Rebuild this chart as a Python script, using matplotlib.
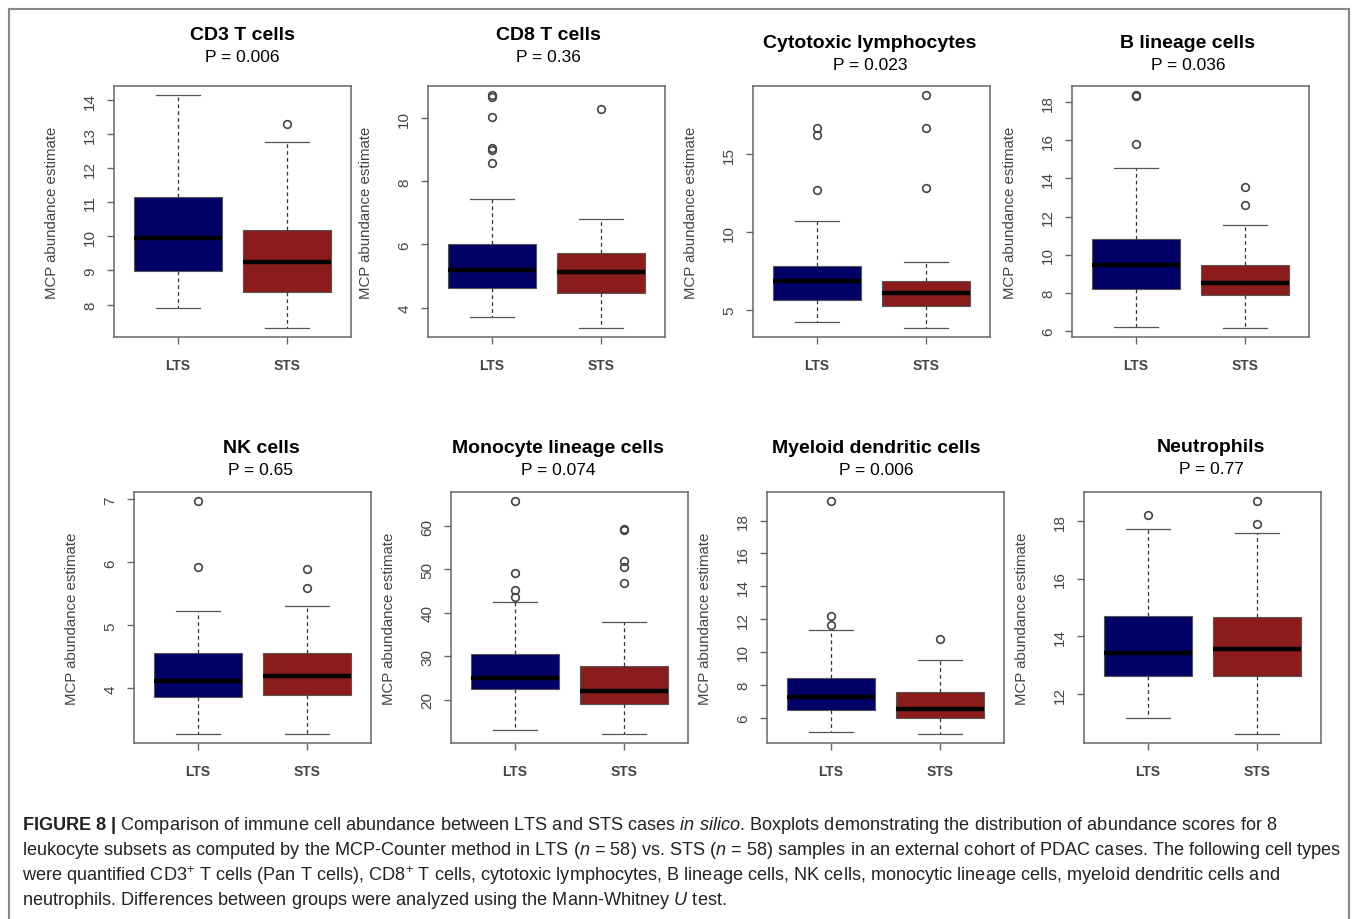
import matplotlib
matplotlib.use('Agg')
import matplotlib.pyplot as plt
from matplotlib.ticker import MultipleLocator

# Данные
panel_titles = ["CD3 T cells", "CD8 T cells", "Cytotoxic lymphocytes", "B lineage cells",
                "NK cells", "Monocyte lineage cells", "Myeloid dendritic cells", "Neutrophils"]
p_values = ["0.006", "0.36", "0.023", "0.036", "0.65", "0.074", "0.006", "0.77"]
groups = ["LTS", "STS"]
tick_step = [1, 2, 5, 2, 1, 10, 2, 2]

lts_whislo = [7.90, 3.71, 4.24, 6.23, 3.28, 12.9, 5.15, 11.15]
lts_q1 = [8.97, 4.62, 5.65, 8.21, 3.86, 22.5, 6.47, 12.64]
lts_med = [9.96, 5.18, 6.90, 9.44, 4.11, 25.1, 7.26, 13.41]
lts_q3 = [11.17, 6.01, 7.82, 10.84, 4.56, 30.5, 8.43, 14.70]
lts_whishi = [14.14, 7.45, 10.73, 14.54, 5.23, 42.5, 11.32, 17.73]
lts_fliers = [[], [10.73, 10.69, 10.04, 9.07, 8.99, 8.59], [16.71, 16.24, 12.72],
              [18.36, 18.32, 15.81], [6.97, 5.93], [65.7, 49.2, 45.2, 43.7],
              [19.18, 12.22, 11.67], [18.23]]

sts_whislo = [7.32, 3.36, 3.87, 6.18, 3.28, 12.15, 5.02, 10.62]
sts_q1 = [8.36, 4.46, 5.26, 7.91, 3.89, 18.9, 5.96, 12.63]
sts_med = [9.25, 5.14, 6.13, 8.51, 4.19, 21.9, 6.51, 13.57]
sts_q3 = [10.20, 5.73, 6.84, 9.46, 4.56, 27.8, 7.55, 14.67]
sts_whishi = [12.77, 6.80, 8.12, 11.58, 5.31, 37.8, 9.51, 17.60]
sts_fliers = [[13.29], [10.31], [18.8, 16.73, 12.87], [13.57, 12.61], [5.89, 5.59],
              [59.3, 59.1, 52.0, 50.5, 46.8], [10.81], [18.7, 17.9]]

box_colors = ["#000066", "#8B1C1C"]

# Раскладка (в пикселях 1358x920)
W, H = 1358, 920
ax_left = [114, 428, 753, 1072, 134, 451, 767, 1084]
ax_top = [87, 87, 87, 87, 493, 493, 493, 493]
ax_w, ax_h = 237, 251
title_x = [242, 548, 870, 1188, 261, 558, 876, 1211]
title_y = [35, 35, 43, 43, 449, 449, 449, 448]

plt.rcParams['font.family'] = 'Liberation Sans'
plt.rcParams['mathtext.fontset'] = 'custom'
plt.rcParams['mathtext.rm'] = 'Liberation Sans'
plt.rcParams['mathtext.it'] = 'Liberation Sans:italic'
plt.rcParams['mathtext.bf'] = 'Liberation Sans:bold'

gray = "#555555"
fig = plt.figure(figsize=(W / 100, H / 100), dpi=100)

for i in range(8):
    ax = fig.add_axes([ax_left[i] / W, 1 - (ax_top[i] + ax_h) / H, ax_w / W, ax_h / H])
    stats = []
    for k, (lo, q1, med, q3, hi, fl) in enumerate([
            (lts_whislo[i], lts_q1[i], lts_med[i], lts_q3[i], lts_whishi[i], lts_fliers[i]),
            (sts_whislo[i], sts_q1[i], sts_med[i], sts_q3[i], sts_whishi[i], sts_fliers[i])]):
        stats.append(dict(whislo=lo, q1=q1, med=med, q3=q3, whishi=hi, fliers=fl, label=groups[k]))

    bp = ax.bxp(stats, positions=[1, 2], widths=0.8, capwidths=0.4, patch_artist=True,
                boxprops=dict(edgecolor=gray, linewidth=0.8),
                medianprops=dict(color='black', linewidth=3.2, solid_capstyle='butt'),
                whiskerprops=dict(color="#333333", linewidth=0.9, linestyle=(0, (3, 2.5))),
                capprops=dict(color="#555555", linewidth=0.9),
                flierprops=dict(marker='o', markersize=5.5, markerfacecolor='none',
                                markeredgecolor="#444444", markeredgewidth=1.2))
    for patch, c in zip(bp['boxes'], box_colors):
        patch.set_facecolor(c)

    # пределы осей как в R (+4%)
    all_vals = [lts_whislo[i], lts_whishi[i], sts_whislo[i], sts_whishi[i]] + lts_fliers[i] + sts_fliers[i]
    lo, hi = min(all_vals), max(all_vals)
    pad = (hi - lo) * 0.04
    ax.set_ylim(lo - pad, hi + pad)
    ax.set_xlim(0.42, 2.58)
    ax.yaxis.set_major_locator(MultipleLocator(tick_step[i]))
    ax.yaxis.set_major_formatter(matplotlib.ticker.FormatStrFormatter('%d'))

    for s in ax.spines.values():
        s.set_color("#666666")
        s.set_linewidth(1.1)
    ax.tick_params(axis='both', length=5, width=1.0, color="#666666", labelcolor="#444444")
    ax.tick_params(axis='y', labelsize=11, pad=7, labelrotation=90)
    ax.tick_params(axis='x', labelsize=10, pad=10)
    for lab in ax.get_yticklabels():
        lab.set_va('center')
    for lab in ax.get_xticklabels():
        lab.set_fontweight('bold')

    ax.text(-62 / ax_w, 0.5, "MCP abundance estimate", transform=ax.transAxes, rotation=90,
            ha='center', va='center', fontsize=10.8, color="#444444")

    fig.text(title_x[i] / W, 1 - title_y[i] / H, panel_titles[i], ha='center', va='center',
             fontsize=14, fontweight='bold', color='black')
    fig.text(title_x[i] / W, 1 - (title_y[i] + 22) / H, "P = " + p_values[i], ha='center',
             va='center', fontsize=12.5, color='black')

# Рамка вокруг рисунка (без нижней стороны)
border = dict(color="#888888", linewidth=1.5, transform=fig.transFigure)
fig.add_artist(plt.Line2D([9 / W, 9 / W], [0, 1 - 10 / H], **border))
fig.add_artist(plt.Line2D([1349 / W, 1349 / W], [0, 1 - 10 / H], **border))
fig.add_artist(plt.Line2D([9 / W, 1349 / W], [1 - 10 / H, 1 - 10 / H], **border))

caption = [
    r"$\mathbf{FIGURE\ 8\ |}$ Comparison of immune cell abundance between LTS and STS cases $\mathit{in\ silico}$. "
    r"Boxplots demonstrating the distribution of abundance scores for 8",
    r"leukocyte subsets as computed by the MCP-Counter method in LTS ($\mathit{n}$ = 58) vs. STS ($\mathit{n}$ = 58) "
    r"samples in an external cohort of PDAC cases. The following cell types",
    r"were quantified CD3$^{+}$ T cells (Pan T cells), CD8$^{+}$ T cells, cytotoxic lymphocytes, B lineage cells, "
    r"NK cells, monocytic lineage cells, myeloid dendritic cells and",
    r"neutrophils. Differences between groups were analyzed using the Mann-Whitney $\mathit{U}$ test.",
]
cap_y = [826, 851, 876, 901]
for line, y in zip(caption, cap_y):
    fig.text(22 / W, 1 - y / H, line, ha='left', va='center', fontsize=13.1, color="#222222")

plt.savefig("out.png", dpi=100)
plt.close()
